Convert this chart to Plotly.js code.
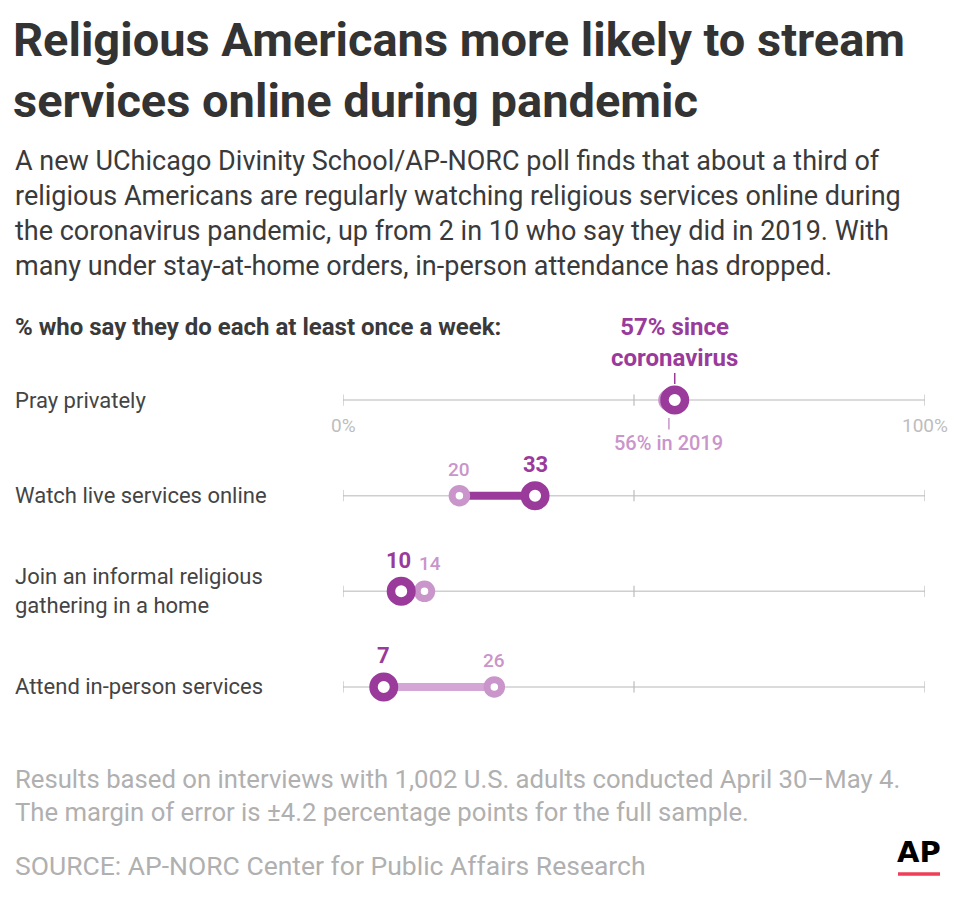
<!DOCTYPE html>
<html>
<head>
<meta charset="utf-8">
<script src="https://cdn.plot.ly/plotly-3.0.1.min.js"></script>
<style>html,body{margin:0;padding:0;background:#fff;}#chart{width:960px;height:901px;}</style>
</head>
<body>
<div id="chart"></div>
<script>
// ---- Data ----
const categories = ['Pray privately', 'Watch live services online', 'Join an informal religious<br>gathering in a home', 'Attend in-person services'];
const values2019 = [56, 20, 14, 26];
const valuesNow = [57, 33, 10, 7];
const axisTicks = [0, 50, 100];
const axisLabelTicks = [0, 100];
const axisLabels = ['0%', '100%'];

const DARK = '#9a3b9c';
const LIGHT = '#c995cb';
const LINELIGHT = '#d3a6d5';
const FONT = 'Roboto, "Liberation Sans", Arial, sans-serif';

const traces = [];
// background rails
categories.forEach(c => {
  traces.push({x: [axisTicks[0], axisTicks[axisTicks.length-1]], y: [c, c], mode: 'lines', line: {color: '#cfcfcf', width: 1.5}, hoverinfo: 'skip', showlegend: false});
  traces.push({x: axisTicks, y: axisTicks.map(() => c), mode: 'markers', marker: {symbol: 'line-ns', size: 8, line: {color: '#bdbdbd', width: 1.2}}, hoverinfo: 'skip', showlegend: false});
});
// connectors
categories.forEach((c, i) => {
  traces.push({x: [values2019[i], valuesNow[i]], y: [c, c], mode: 'lines', line: {color: valuesNow[i] > values2019[i] ? DARK : LINELIGHT, width: 8}, hoverinfo: 'skip', showlegend: false});
});
// 2019 markers
traces.push({x: values2019, y: categories, mode: 'markers', name: '2019', marker: {color: '#fff', size: 14.5, line: {color: LIGHT, width: 7}}, showlegend: false});
// now markers
traces.push({x: valuesNow, y: categories, mode: 'markers', name: 'Since coronavirus', marker: {color: '#fff', size: 20.5, line: {color: DARK, width: 8.5}}, showlegend: false});

const annotations = [];
// category labels
categories.forEach(c => {
  annotations.push({xref: 'paper', yref: 'y', x: 13/960, y: c, xanchor: 'left', yanchor: 'middle', align: 'left', showarrow: false, text: c, font: {family: FONT, size: 22, color: '#444'}});
});
// value labels for rows other than the first
categories.forEach((c, i) => {
  if (i === 0) return;
  const close = Math.abs(valuesNow[i] - values2019[i]) < 6;
  annotations.push({xref: 'x', yref: 'y', x: valuesNow[i], y: c, yshift: 31, xshift: close ? -3 : 0, showarrow: false, text: String(valuesNow[i]), font: {family: FONT, size: 22, color: DARK, weight: 700}});
  annotations.push({xref: 'x', yref: 'y', x: values2019[i], y: c, yshift: close ? 28 : 26, xshift: close ? 6 : 0, showarrow: false, text: String(values2019[i]), font: {family: FONT, size: 19, color: LIGHT, weight: 500}});
});
// first row callouts
annotations.push({xref: 'x', yref: 'y', x: valuesNow[0], y: categories[0], ax: 0, ay: -58, showarrow: true, arrowhead: 0, arrowwidth: 1.5, arrowcolor: DARK, standoff: 16,
  text: valuesNow[0] + '% since<br>coronavirus', font: {family: FONT, size: 24, color: DARK, weight: 700}});
annotations.push({xref: 'x', yref: 'y', x: values2019[0], y: categories[0], ax: 0, ay: 43, showarrow: true, arrowhead: 0, arrowwidth: 1.5, arrowcolor: LIGHT, standoff: 18,
  text: values2019[0] + '% in 2019', font: {family: FONT, size: 20, color: LIGHT, weight: 500}});
// axis labels
axisLabelTicks.forEach((t, i) => {
  annotations.push({xref: 'x', yref: 'y', x: t, y: categories[0], yshift: -25, showarrow: false, text: axisLabels[i], font: {family: FONT, size: 19, color: '#bdbdbd'}});
});
// subtitle
annotations.push({xref: 'paper', yref: 'paper', x: 13/960, y: 1 - 143/901, xanchor: 'left', yanchor: 'top', align: 'left', showarrow: false,
  text: 'A new UChicago Divinity School/AP-NORC poll finds that about a third of<br>religious Americans are regularly watching religious services online during<br>the coronavirus pandemic, up from 2 in 10 who say they did in 2019. With<br>many under stay-at-home orders, in-person attendance has dropped.',
  font: {family: FONT, size: 27, color: '#3a3a3a'}});
annotations.push({xref: 'paper', yref: 'paper', x: 13/960, y: 1 - 327/901, xanchor: 'left', yanchor: 'middle', align: 'left', showarrow: false,
  text: '% who say they do each at least once a week:', font: {family: FONT, size: 24, color: '#3a3a3a', weight: 700}});
// footer
annotations.push({xref: 'paper', yref: 'paper', x: 13/960, y: 1 - 762/901, xanchor: 'left', yanchor: 'top', align: 'left', showarrow: false,
  text: 'Results based on interviews with 1,002 U.S. adults conducted April 30–May 4.<br>The margin of error is ±4.2 percentage points for the full sample.',
  font: {family: FONT, size: 25.7, color: '#b0b0b0'}});
annotations.push({xref: 'paper', yref: 'paper', x: 13/960, y: 1 - 865/901, xanchor: 'left', yanchor: 'middle', align: 'left', showarrow: false,
  text: 'SOURCE: AP-NORC Center for Public Affairs Research', font: {family: FONT, size: 26.5, color: '#b0b0b0'}});
// AP logo
annotations.push({xref: 'paper', yref: 'paper', x: 919/960, y: 1 - 852/901, xanchor: 'center', yanchor: 'middle', showarrow: false,
  text: 'AP', font: {family: '"DejaVu Sans", Arial, sans-serif', size: 29, color: '#000', weight: 900}});

const layout = {
  width: 960, height: 901,
  margin: {l: 0, r: 0, t: 0, b: 0},
  paper_bgcolor: '#fff', plot_bgcolor: '#fff',
  title: {text: 'Religious Americans more likely to stream<br>services online during pandemic', x: 13/960, xanchor: 'left', xref: 'paper', y: 1 - 56/901, yanchor: 'top', yref: 'container',
    font: {family: FONT, size: 47, color: '#333', weight: 700}},
  xaxis: {domain: [343/960, 925/960], range: [0, 100], showgrid: false, zeroline: false, showticklabels: false, showline: false, fixedrange: true},
  yaxis: {type: 'category', categoryarray: categories, categoryorder: 'array', domain: [0.1845, 0.609], range: [3.5, -0.5], showgrid: false, zeroline: false, showticklabels: false, showline: false, fixedrange: true},
  shapes: [{type: 'line', xref: 'paper', yref: 'paper', x0: 898/960, x1: 940/960, y0: 1 - 874/901, y1: 1 - 874/901, line: {color: '#ef3e56', width: 3.5}}],
  annotations: annotations,
  showlegend: false
};
Plotly.newPlot('chart', traces, layout, {displayModeBar: false, staticPlot: true});
</script>
</body>
</html>
